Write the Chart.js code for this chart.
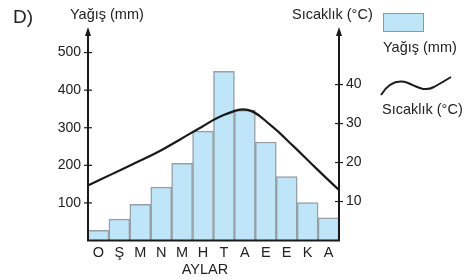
<!DOCTYPE html>
<html>
<head>
<meta charset="utf-8">
<script src="https://cdn.jsdelivr.net/npm/chart.js@4"></script>
<style>
  body { margin: 0; background: #fff; }
  #wrap { width: 476px; height: 280px; }
</style>
</head>
<body>
<div id="wrap"><canvas id="myChart" width="476" height="280"></canvas></div>
<script>
// Data
const months = ['O', 'Ş', 'M', 'N', 'M', 'H', 'T', 'A', 'E', 'E', 'K', 'A'];
const rainfall = [27, 57, 96, 142, 205, 291, 450, 346, 262, 170, 101, 60];
const temperature = [14.1, 16.9, 19.7, 22.5, 25.8, 29.2, 32.3, 33.5, 29.6, 24.2, 18.5, 12.95];
const rainTicks = [100, 200, 300, 400, 500];
const tempTicks = [10, 20, 30, 40];

const FONT = '"Liberation Sans", Arial, sans-serif';
const INK = '#1a1a1a';

// Axis lines, arrows, cross ticks, titles and legend
const decor = {
    id: 'decor',
    afterDatasetsDraw(chart) {
        const ctx = chart.ctx;
        const a = chart.chartArea;
        const yL = chart.scales.y, yR = chart.scales.y1;
        ctx.save();
        ctx.strokeStyle = INK;
        ctx.fillStyle = INK;
        ctx.lineWidth = 2;
        // axes
        ctx.beginPath();
        ctx.moveTo(a.left, a.top + 4);
        ctx.lineTo(a.left, a.bottom);
        ctx.lineTo(a.right, a.bottom);
        ctx.lineTo(a.right, a.top + 4);
        ctx.stroke();
        [a.left, a.right].forEach(x => {
            ctx.beginPath();
            ctx.moveTo(x, a.top - 3);
            ctx.lineTo(x - 3, a.top + 6);
            ctx.lineTo(x + 3, a.top + 6);
            ctx.closePath();
            ctx.fill();
        });
        // cross ticks
        ctx.lineWidth = 1.2;
        rainTicks.forEach(v => {
            const y = yL.getPixelForValue(v);
            ctx.beginPath(); ctx.moveTo(a.left - 4, y); ctx.lineTo(a.left + 4, y); ctx.stroke();
        });
        tempTicks.forEach(v => {
            const y = yR.getPixelForValue(v);
            ctx.beginPath(); ctx.moveTo(a.right - 4, y); ctx.lineTo(a.right + 4, y); ctx.stroke();
        });
        // texts
        ctx.textBaseline = 'middle';
        ctx.textAlign = 'left';
        ctx.fillStyle = '#222';
        ctx.font = '19px ' + FONT;
        ctx.fillText('D)', 13, 18);
        ctx.font = '14.5px ' + FONT;
        ctx.fillText('Yağış (mm)', 70, 15);
        ctx.fillText('Sıcaklık (°C)', 292, 15);
        ctx.textAlign = 'center';
        ctx.fillText('AYLAR', 205, 270);
        // legend
        ctx.textAlign = 'left';
        ctx.fillStyle = '#bfe6f8';
        ctx.fillRect(383, 13, 41, 19);
        ctx.strokeStyle = '#8e989d';
        ctx.lineWidth = 1;
        ctx.strokeRect(383.5, 13.5, 40, 18);
        ctx.fillStyle = '#222';
        ctx.fillText('Yağış (mm)', 383, 48);
        ctx.fillText('Sıcaklık (°C)', 382, 110);
        ctx.strokeStyle = INK;
        ctx.lineWidth = 2;
        ctx.beginPath();
        ctx.moveTo(381, 95);
        ctx.bezierCurveTo(388, 84, 397, 79, 408, 83);
        ctx.bezierCurveTo(418, 87, 424, 92, 434, 87);
        ctx.quadraticCurveTo(443, 82, 451, 77);
        ctx.stroke();
        ctx.restore();
    }
};

new Chart(document.getElementById('myChart').getContext('2d'), {
    data: {
        labels: months,
        datasets: [
            {
                type: 'line', label: 'Sıcaklık (°C)', data: temperature,
                xAxisID: 'x2', yAxisID: 'y1',
                borderColor: INK, borderWidth: 2.2, pointRadius: 0, tension: 0.4,
                fill: false, order: 0
            },
            {
                type: 'bar', label: 'Yağış (mm)', data: rainfall,
                xAxisID: 'x', yAxisID: 'y', grouped: false,
                backgroundColor: '#bfe6f8', borderColor: '#959fa4', borderWidth: 1.5,
                barPercentage: 1, categoryPercentage: 1, order: 1
            }
        ]
    },
    options: {
        responsive: false,
        animation: false,
        layout: { padding: { top: 30, left: 0, right: 0, bottom: 0 } },
        plugins: { legend: { display: false }, tooltip: { enabled: false } },
        scales: {
            x: {
                type: 'category', offset: true,
                grid: { display: false, drawTicks: false }, border: { display: false },
                ticks: { color: '#222', font: { family: FONT, size: 14.5 }, padding: 4, maxRotation: 0, autoSkip: false },
                afterFit: s => { s.height = 39.5; }
            },
            x2: { type: 'category', labels: months, offset: false, display: false },
            y: {
                position: 'left', min: 0, max: 560,
                grid: { display: false, drawTicks: false }, border: { display: false },
                afterBuildTicks: s => { s.ticks = rainTicks.map(v => ({ value: v })); },
                ticks: { color: '#222', font: { family: FONT, size: 14 }, padding: 7 },
                afterFit: s => { s.width = 88; }
            },
            y1: {
                position: 'right', min: 0, max: 54,
                grid: { display: false, drawTicks: false }, border: { display: false },
                afterBuildTicks: s => { s.ticks = tempTicks.map(v => ({ value: v })); },
                ticks: { color: '#222', font: { family: FONT, size: 14 }, padding: 7 },
                afterFit: s => { s.width = 137; }
            }
        }
    },
    plugins: [decor]
});
</script>
</body>
</html>
